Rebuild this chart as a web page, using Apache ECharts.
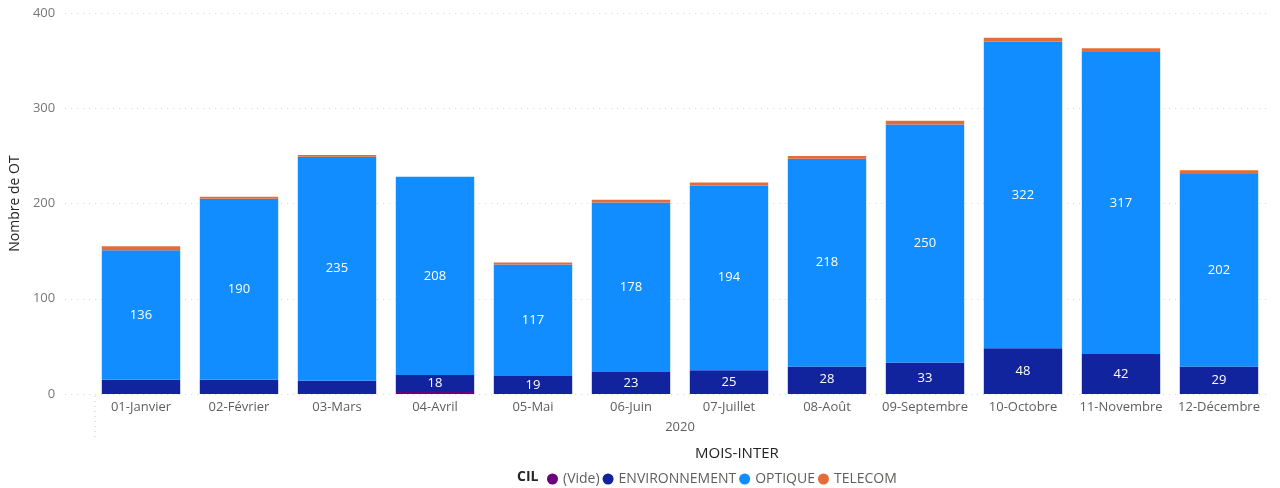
<!DOCTYPE html>
<html><head><meta charset="utf-8">
<script src="https://cdn.jsdelivr.net/npm/echarts@6/dist/echarts.min.js"></script>
<style>html,body{margin:0;padding:0;background:#fff}#c{width:1280px;height:488px}</style>
</head><body><div id="c"></div>
<script>
const categories = ['01-Janvier','02-Février','03-Mars','04-Avril','05-Mai','06-Juin','07-Juillet','08-Août','09-Septembre','10-Octobre','11-Novembre','12-Décembre'];
const vide = [0,0,1,2,0,0,0,1,0,0,0,0];
const environnement = [15,15,13,18,19,23,25,28,33,48,42,29];
const optique = [136,190,235,208,117,178,194,218,250,322,317,202];
const telecom = [4,2,2,0,2,3,3,3,4,4,4,4];
const yTicks = [0,100,200,300,400];

const FONT = "'Segoe UI','Open Sans',sans-serif";
const chart = echarts.init(document.getElementById('c'));
const labelIn = (minShow) => ({
  show: true, position: 'inside', color: '#fff', fontSize: 13, fontFamily: FONT,
  formatter: p => (p.value >= minShow ? p.value : '')
});
chart.setOption({
  animation: false,
  textStyle: { fontFamily: FONT },
  grid: [
    { left: 63, right: 12, top: 13, bottom: 94 },
    { left: 92, right: 12, top: 13, bottom: 94 }
  ],
  xAxis: [
    { gridIndex: 0, type: 'value', show: false, min: 0, max: 1 },
    { gridIndex: 1, type: 'category', data: categories,
      axisLine: { show: false }, axisTick: { show: false },
      axisLabel: { color: '#605E5C', fontSize: 13, margin: 7, fontFamily: FONT, interval: 0 },
      name: '2020', nameLocation: 'middle', nameGap: 27,
      nameTextStyle: { color: '#605E5C', fontSize: 13, fontFamily: FONT } }
  ],
  yAxis: [
    { gridIndex: 0, type: 'value', min: 0, max: 400, interval: 100,
      axisLine: { show: false }, axisTick: { show: false },
      axisLabel: { color: '#777', fontSize: 13, margin: 10, fontFamily: FONT,
        formatter: v => (yTicks.includes(v) ? String(v) : '') },
      splitLine: { lineStyle: { color: '#D0D0D0', type: [1, 5], width: 1 } },
      name: 'Nombre de OT', nameLocation: 'middle', nameGap: 37, nameRotate: 90,
      nameTextStyle: { color: '#252423', fontSize: 14, fontFamily: FONT } },
    { gridIndex: 1, type: 'value', min: 0, max: 400, interval: 100, show: false,
      splitLine: { show: false } }
  ],
  title: [
    { text: 'MOIS-INTER', left: 690, top: 441,
      textStyle: { color: '#252423', fontSize: 15, fontWeight: 'normal', fontFamily: FONT } },
    { text: 'CIL', left: 512, top: 465,
      textStyle: { color: '#252423', fontSize: 14, fontWeight: 'bold', fontFamily: FONT } }
  ],
  legend: {
    left: 542, top: 467, icon: 'circle', itemWidth: 11, itemHeight: 11, itemGap: 3,
    textStyle: { color: '#605E5C', fontSize: 14, fontFamily: FONT },
    data: ['(Vide)', 'ENVIRONNEMENT', 'OPTIQUE', 'TELECOM']
  },
  graphic: [
    { type: 'line', shape: { x1: 95, y1: 396, x2: 95, y2: 438 },
      style: { stroke: '#C8C8C8', lineWidth: 1, lineDash: [1, 4] } }
  ],
  series: [
    { name: '(Vide)', type: 'bar', stack: 't', xAxisIndex: 1, yAxisIndex: 1, data: vide,
      itemStyle: { color: '#6B007B' }, barCategoryGap: '20%' },
    { name: 'ENVIRONNEMENT', type: 'bar', stack: 't', xAxisIndex: 1, yAxisIndex: 1, data: environnement,
      itemStyle: { color: '#12239E' }, label: labelIn(18) },
    { name: 'OPTIQUE', type: 'bar', stack: 't', xAxisIndex: 1, yAxisIndex: 1, data: optique,
      itemStyle: { color: '#118DFF' }, label: labelIn(1) },
    { name: 'TELECOM', type: 'bar', stack: 't', xAxisIndex: 1, yAxisIndex: 1, data: telecom,
      itemStyle: { color: '#E66C37' } }
  ]
});
</script></body></html>
